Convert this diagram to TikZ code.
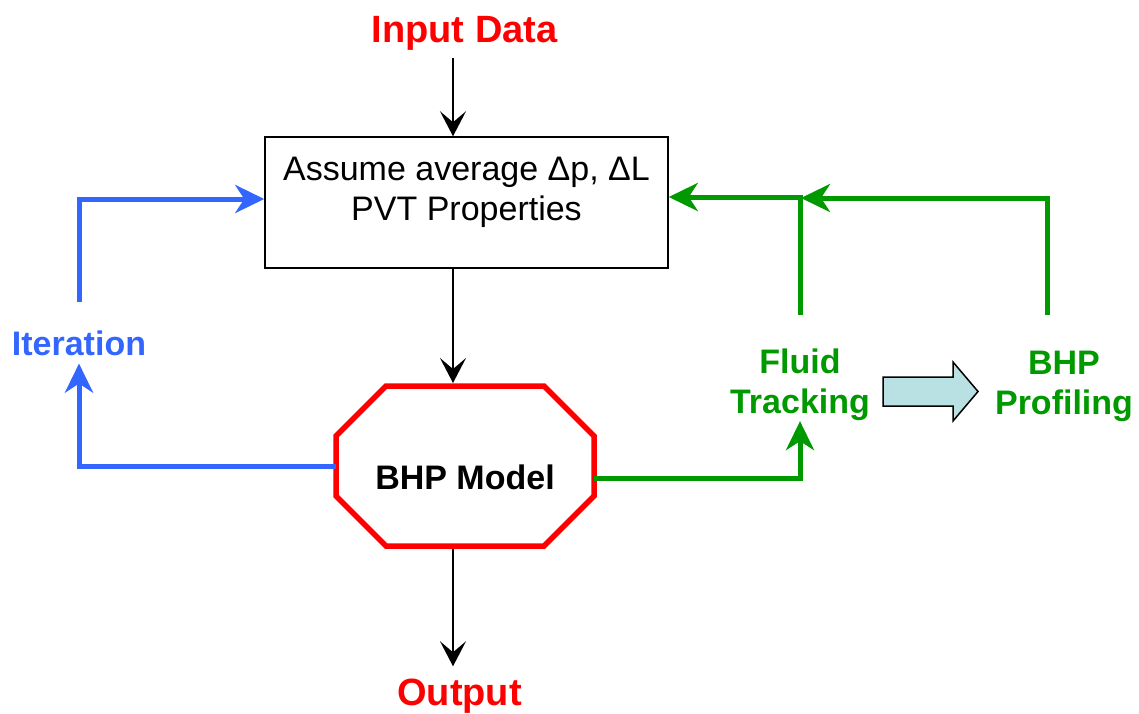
\documentclass[tikz,border=0pt]{standalone}
\usepackage{fontspec}
\setmainfont{Liberation Sans}
\usepackage{tikz}
\usetikzlibrary{arrows.meta}

\definecolor{flowred}{RGB}{255,0,0}
\definecolor{iterblue}{RGB}{51,102,255}
\definecolor{trackgreen}{RGB}{0,153,0}
\definecolor{arrowfill}{RGB}{185,224,227}

\tikzset{
	heading/.style={text=flowred, font=\bfseries\fontsize{38}{44}\selectfont, inner sep=0pt, anchor=base},
	tag/.style={font=\bfseries\fontsize{34}{40}\selectfont, inner sep=0pt, align=center},
	boxtext/.style={font=\fontsize{34}{40}\selectfont, inner sep=0pt, align=center},
	karrow/.style={line width=1.8pt, -{Stealth[length=25pt,width=26pt,inset=11pt]}},
	backline/.style={line width=5pt, -{Stealth[length=29pt,width=28pt,inset=9pt]}},
}

\begin{document}
\begin{tikzpicture}[x=1pt, y=-1pt]
				\useasboundingbox (0,0) rectangle (1139,713);
				% Nodes and blocks:
				\node[heading] (input) at (464.5,42) {Input Data};
				\node[draw, line width=1.5pt, minimum width=403pt, minimum height=131pt, inner sep=0pt] (assume) at (466.5,202.5) {};
				\node[boxtext] (assumetxt) at (466.5,192.5) {Assume average Δp, ΔL\\PVT Properties};
				\node[minimum width=258pt, minimum height=160pt, inner sep=0pt, outer sep=0pt] (model) at (465,466) {};
				\node[tag] (modeltxt) at (465,477.5) {BHP Model};
				\node[tag, text=iterblue, anchor=base] (iter) at (79,355) {Iteration};
				\node[tag, text=trackgreen] (fluid) at (800,385) {Fluid\\Tracking};
				\node[tag, text=trackgreen] (profile) at (1064,386.5) {BHP\\Profiling};
				\node[heading] (output) at (459.5,705) {Output};
				\coordinate (spine) at (453,0);
				\coordinate (tap) at (1047,315);
				\coordinate (join) at (801,198);
				% Octagon:
				\draw[line width=5.5pt, flowred] ([xshift=50pt]model.north west) -- ([xshift=-50pt]model.north east)
					-- ([yshift=-50pt]model.north east) -- ([yshift=50pt]model.south east)
					-- ([xshift=-50pt]model.south east) -- ([xshift=50pt]model.south west)
					-- ([yshift=50pt]model.south west) -- ([yshift=-50pt]model.north west) -- cycle;
				% Main flow:
				\draw[karrow, shorten <=8pt] (input.south -| spine) -- (assume.north -| spine);
				\draw[karrow, shorten >=3pt] (assume.south -| spine) -- (model.north -| spine);
				\draw[karrow, shorten <=3pt, shorten >=12pt] (model.south -| spine) -- (output.north -| spine);
				% Iteration loop:
				\draw[backline, iterblue, shorten >=8pt] (model.west) -| (iter.south);
				\draw[backline, iterblue, shorten <=27.7pt] (iter.north) |- ([yshift=3.5pt]assume.west);
				% Tracking and profiling:
				\draw[backline, trackgreen] ([yshift=-12pt]model.east) -| (fluid.south);
				\draw[backline, trackgreen, shorten <=34pt] (fluid.north) |- ([yshift=5.5pt]assume.east);
				\draw[backline, trackgreen] (tap) |- (join);
				\draw[line width=1.5pt, fill=arrowfill] (883,377) -- ++(70,0) -- ++(0,-15) -- ++(25,29.5)
					-- ++(-25,29.5) -- ++(0,-15) -- ++(-70,0) -- cycle;
			\end{tikzpicture}
\end{document}
